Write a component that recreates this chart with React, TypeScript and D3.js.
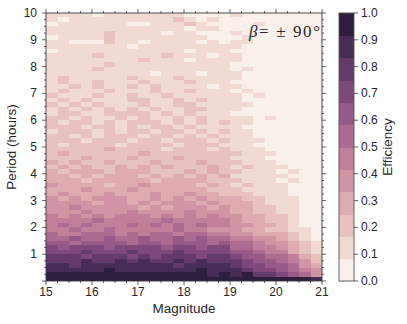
import React from "react";
import * as d3 from "d3";

// ---------- data ----------
const MAG_TICKS = [15, 16, 17, 18, 19, 20, 21];
const PERIOD_TICKS = [1, 2, 3, 4, 5, 6, 7, 8, 9, 10];
const CBAR_TICKS = [0, 0.1, 0.2, 0.3, 0.4, 0.5, 0.6, 0.7, 0.8, 0.9, 1.0];
const MAG_BIN_STARTS = [15, 15.25, 15.5, 15.75, 16, 16.25, 16.5, 16.75, 17, 17.25, 17.5, 17.75,
  18, 18.25, 18.5, 18.75, 19, 19.25, 19.5, 19.75, 20, 20.25, 20.5, 20.75];
const MAG_BIN_WIDTH = 0.25;
const PERIOD_BIN_HEIGHT = 1 / 6;
const N_LEVELS = 12;
// efficiency level per cell (0..11 as hex digits, grouped by 4 columns),
// top row (period 9.83-10 h) first, bottom row (0-0.17 h) last
const EFF_ROWS = [
  "1111 0111 1111 0000 1000 0000",
  "1011 1111 1112 1010 0000 0000",
  "0111 1110 0111 2100 0010 0000",
  "1111 1111 1111 0110 0000 0000",
  "1111 1211 1101 1000 1000 0000",
  "0111 1211 1111 1100 0100 0000",
  "1100 0211 0111 1010 1100 0000",
  "1111 1110 1111 1111 1000 0000",
  "0111 1111 1111 0111 0000 0000",
  "1111 2111 1121 1101 1000 0000",
  "1111 1111 2111 0111 1000 0000",
  "1111 1211 1111 1111 0000 0000",
  "1111 2111 1111 1111 0100 0000",
  "1111 1111 1011 1011 1000 0000",
  "1211 1112 1112 1111 1000 0000",
  "1211 2111 2111 2111 0000 0000",
  "1121 2112 1211 1101 1000 0000",
  "1211 1211 1211 2111 0100 0000",
  "2111 2112 1121 1111 1010 0000",
  "1212 1112 2112 1211 1000 0000",
  "2121 2111 2112 2111 1100 0000",
  "1212 1212 1211 2211 1000 0000",
  "1221 1222 2121 2111 0000 0000",
  "2212 1121 2112 1211 1101 0000",
  "2122 1212 2212 1212 1100 0000",
  "2221 2212 1221 2111 1000 0000",
  "1222 1212 2122 1212 1100 0000",
  "2212 1222 1221 2121 1100 0000",
  "2221 2221 2212 2212 1110 0000",
  "2122 2212 2221 2221 1100 0000",
  "2222 2322 2212 2212 1110 0000",
  "2322 2222 3222 2222 2111 0000",
  "2223 2223 2223 2222 1110 0000",
  "3232 2322 2322 2322 2111 0000",
  "2323 2232 3232 2232 1211 1000",
  "3233 3233 3222 3232 2111 0100",
  "3323 2333 2323 2323 1111 1000",
  "3332 3333 3233 3322 2111 0100",
  "4333 3233 4333 3232 1211 1000",
  "3334 3334 3333 3322 2111 1000",
  "3433 3433 3433 4332 2211 1000",
  "4343 4443 3434 3433 3221 1100",
  "4444 3443 4344 4343 3321 1100",
  "4454 4444 3434 4434 3322 1100",
  "4445 4445 4444 5444 3322 1100",
  "5454 5455 5454 5454 4332 2100",
  "5555 6555 5565 5555 4332 2100",
  "5656 5556 5656 5655 4433 2100",
  "5565 5655 5556 5544 4332 2110",
  "6556 6656 5665 6655 4433 3210",
  "6676 6766 7667 6766 5544 3210",
  "7767 7776 7767 7767 6654 4321",
  "8788 8788 8878 8788 6655 4321",
  "8889 8889 8889 8888 7765 5321",
  "9998 9998 9899 9899 8776 6532",
  "999a 99a9 a99a 9a99 9877 6542",
  "aa9a aaaa aaa9 aaaa 9887 7643",
  "aaaa abaa aaaa abaa a988 7654",
  "bbbb bbbb bbbb bbab ab99 8764",
  "bbbb bbbb bbbb bbbb bbbb bbba",
];

// ---------- palette (seaborn-style cubehelix) ----------
function cubehelixColor(x: number): string {
  const hue = 0.8, start = 0, rot = 0.4;
  const a = (hue * x * (1 - x)) / 2;
  const phi = 2 * Math.PI * (start / 3 + rot * x);
  const c = Math.cos(phi), s = Math.sin(phi);
  const r = x + a * (-0.14861 * c + 1.78277 * s);
  const g = x + a * (-0.29227 * c - 0.90649 * s);
  const b = x + a * (1.97294 * c);
  const cl = (v: number) => Math.round(Math.max(0, Math.min(1, v)) * 255);
  return d3.rgb(cl(r), cl(g), cl(b)).formatHex();
}
const LIGHT = 0.95, DARK = 0.15;
const PALETTE = d3.range(N_LEVELS).map((i) => cubehelixColor(LIGHT - (i * (LIGHT - DARK)) / (N_LEVELS - 1)));

// ---------- layout ----------
const W = 407, H = 324;
const PL = 46, PR = 322, PT = 13, PB = 281;
const CB_X0 = 339, CB_X1 = 354;
const FONT = "'Liberation Sans', Arial, Helvetica, sans-serif";
const TXT = "#262626";
const AX = "#3a3a3a";

export default function App() {
  const x = d3.scaleLinear().domain([15, 21]).range([PL, PR]);
  const y = d3.scaleLinear().domain([0, 10]).range([PB, PT]);
  const color = d3.scaleQuantize<string>().domain([0, 1]).range(PALETTE);
  const cb = d3.scaleLinear().domain([0, 1]).range([PB, PT]);

  const rows = EFF_ROWS.map((s) => s.replace(/\s/g, ""));
  const nRows = rows.length;
  const cells: { x0: number; x1: number; y0: number; y1: number; fill: string }[] = [];
  rows.forEach((row, i) => {
    const r = nRows - 1 - i; // row index from bottom
    MAG_BIN_STARTS.forEach((m, c) => {
      const ch = row[c] ?? "0";
      const level = parseInt(ch, 16) || 0;
      const eff = (level + 0.5) / N_LEVELS;
      cells.push({
        x0: x(m),
        x1: x(m + MAG_BIN_WIDTH),
        y0: y((r + 1) * PERIOD_BIN_HEIGHT),
        y1: y(r * PERIOD_BIN_HEIGHT),
        fill: color(eff),
      });
    });
  });

  const xMinor = d3.range(15, 21.0001, 0.25).filter((v) => Math.abs(v - Math.round(v)) > 1e-6);
  const yMinor = d3.range(0, 10.0001, 0.25).filter((v) => Math.abs(v - Math.round(v)) > 1e-6);
  const yMajorAll = [0, ...PERIOD_TICKS];

  return (
    <svg width={W} height={H} style={{ position: "absolute", left: 0, top: 0, background: "#fff" }}
      xmlns="http://www.w3.org/2000/svg">
      <rect x={0} y={0} width={W} height={H} fill="#fff" />
      {/* heatmap cells */}
      <g shapeRendering="crispEdges">
        <rect x={PL} y={PT} width={PR - PL} height={PB - PT} fill={PALETTE[0]} />
        {cells.map((d, i) => (
          <rect key={i} x={d.x0} y={d.y0} width={d.x1 - d.x0 + 0.4} height={d.y1 - d.y0 + 0.4} fill={d.fill} />
        ))}
      </g>
      {/* frame */}
      <rect x={PL} y={PT} width={PR - PL} height={PB - PT} fill="none" stroke={AX} strokeWidth={0.9} />
      {/* ticks on all four sides */}
      <g stroke={AX} strokeWidth={0.8}>
        {MAG_TICKS.map((t) => (
          <g key={"xt" + t}>
            <line x1={x(t)} x2={x(t)} y1={PB} y2={PB + 4} />
            <line x1={x(t)} x2={x(t)} y1={PT} y2={PT - 4} />
          </g>
        ))}
        {xMinor.map((t) => (
          <g key={"xm" + t}>
            <line x1={x(t)} x2={x(t)} y1={PB} y2={PB + 2} />
            <line x1={x(t)} x2={x(t)} y1={PT} y2={PT - 2} />
          </g>
        ))}
        {yMajorAll.map((t) => (
          <g key={"yt" + t}>
            <line x1={PL} x2={PL - 4} y1={y(t)} y2={y(t)} />
            <line x1={PR} x2={PR + 4} y1={y(t)} y2={y(t)} />
          </g>
        ))}
        {yMinor.map((t) => (
          <g key={"ym" + t}>
            <line x1={PL} x2={PL - 2} y1={y(t)} y2={y(t)} />
            <line x1={PR} x2={PR + 2} y1={y(t)} y2={y(t)} />
          </g>
        ))}
      </g>
      {/* tick labels */}
      <g fontFamily={FONT} fontSize={12} fill={TXT}>
        {MAG_TICKS.map((t) => (
          <text key={"xl" + t} x={x(t)} y={296} textAnchor="middle">{t}</text>
        ))}
        {PERIOD_TICKS.map((t) => (
          <text key={"yl" + t} x={37} y={y(t)} textAnchor="end" dominantBaseline="central">{t}</text>
        ))}
      </g>
      {/* axis titles */}
      <text x={(PL + PR) / 2} y={313} textAnchor="middle" fontFamily={FONT} fontSize={13.5} fill={TXT}>Magnitude</text>
      <text transform={`translate(16,${(PT + PB) / 2}) rotate(-90)`} textAnchor="middle" fontFamily={FONT}
        fontSize={13.5} fill={TXT}>Period (hours)</text>
      {/* annotation */}
      <text x={249} y={37} textLength={71} lengthAdjust="spacing"
        fontFamily="'Liberation Serif', 'DejaVu Serif', serif" fontSize={17} fill={TXT}>
        <tspan fontStyle="italic">β</tspan>
        <tspan>= ± 90°</tspan>
      </text>
      {/* colorbar */}
      <g shapeRendering="crispEdges">
        {PALETTE.map((c, i) => (
          <rect key={"cb" + i} x={CB_X0} y={cb((i + 1) / N_LEVELS)} width={CB_X1 - CB_X0}
            height={cb(i / N_LEVELS) - cb((i + 1) / N_LEVELS) + 0.5} fill={c} />
        ))}
      </g>
      <rect x={CB_X0} y={PT} width={CB_X1 - CB_X0} height={PB - PT} fill="none" stroke="#555" strokeWidth={0.9} />
      <g stroke={AX} strokeWidth={0.8}>
        {CBAR_TICKS.map((t) => (
          <line key={"cbt" + t} x1={CB_X1} x2={CB_X1 + 4} y1={cb(t)} y2={cb(t)} />
        ))}
      </g>
      <g fontFamily={FONT} fontSize={12} fill={TXT}>
        {CBAR_TICKS.map((t) => (
          <text key={"cbl" + t} x={361} y={cb(t)} dominantBaseline="central">{t.toFixed(1)}</text>
        ))}
      </g>
      <text transform={`translate(392,${(PT + PB) / 2}) rotate(-90)`} textAnchor="middle" fontFamily={FONT}
        fontSize={13.5} fill={TXT}>Efficiency</text>
    </svg>
  );
}
